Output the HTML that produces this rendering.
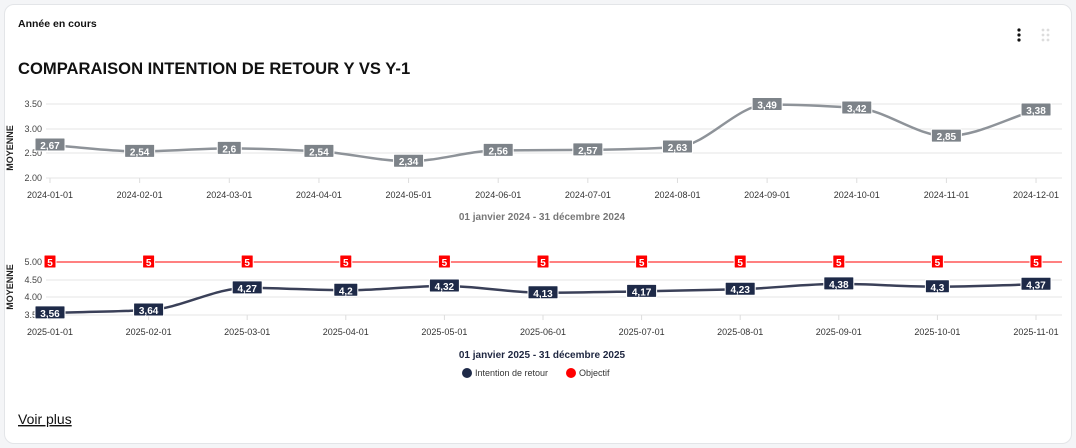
<!DOCTYPE html>
<html><head><meta charset="utf-8"><style>
body{margin:0;background:#f4f5f7;width:1076px;height:448px;overflow:hidden;font-family:"Liberation Sans",sans-serif}
.card{position:absolute;left:4px;top:4px;width:1066px;height:438px;background:#fff;border:1px solid #e3e5e8;border-radius:10px}
svg{position:absolute;left:0;top:0}
</style></head><body>
<div class="card"></div>
<svg id="s" width="1076" height="448" font-family="Liberation Sans, sans-serif">
<text x="18" y="27" font-size="10.5" font-weight="bold" fill="#111">Année en cours</text>
<text x="18" y="74" font-size="16.6" font-weight="bold" fill="#111">COMPARAISON INTENTION DE RETOUR Y VS Y-1</text>
<circle cx="1019" cy="30" r="1.6" fill="#111"/><circle cx="1019" cy="35" r="1.6" fill="#111"/><circle cx="1019" cy="40" r="1.6" fill="#111"/>
<g fill="#ddd"><circle cx="1043" cy="30" r="1.4"/><circle cx="1048" cy="30" r="1.4"/><circle cx="1043" cy="35" r="1.4"/><circle cx="1048" cy="35" r="1.4"/><circle cx="1043" cy="40" r="1.4"/><circle cx="1048" cy="40" r="1.4"/></g>
<text x="18" y="424" font-size="14" fill="#111" text-decoration="underline">Voir plus</text>
<text x="542" y="220" font-size="10" font-weight="bold" fill="#777" text-anchor="middle">01 janvier 2024 - 31 décembre 2024</text>
<text x="542" y="358" font-size="10" font-weight="bold" fill="#1e2640" text-anchor="middle">01 janvier 2025 - 31 décembre 2025</text>
<circle cx="467" cy="373" r="5" fill="#1e2a48"/><text x="475" y="376" font-size="9" fill="#333">Intention de retour</text>
<circle cx="571" cy="373" r="5" fill="#f00"/><text x="579" y="376" font-size="9" fill="#333">Objectif</text>
<text transform="translate(13,148) rotate(-90)" font-size="9" font-weight="bold" fill="#222" text-anchor="middle">MOYENNE</text>
<text transform="translate(13,287) rotate(-90)" font-size="9" font-weight="bold" fill="#222" text-anchor="middle">MOYENNE</text>
</svg>
<script>
var s=document.getElementById('s'),NS='http://www.w3.org/2000/svg';
function el(t,a,txt){var e=document.createElementNS(NS,t);for(var k in a)e.setAttribute(k,a[k]);if(txt!=null)e.textContent=txt;s.appendChild(e);return e}
function path(pts){var n=pts.length,m=[];var d=[];for(var i=0;i<n-1;i++)d.push((pts[i+1][1]-pts[i][1])/(pts[i+1][0]-pts[i][0]));
for(var i=0;i<n;i++){if(i==0)m.push(d[0]);else if(i==n-1)m.push(d[n-2]);else m.push(d[i-1]*d[i]<=0?0:2/(1/d[i-1]+1/d[i]));}
var r='M'+pts[0][0]+','+pts[0][1];for(var i=0;i<n-1;i++){var h=(pts[i+1][0]-pts[i][0])/3;r+=' C'+(pts[i][0]+h)+','+(pts[i][1]+m[i]*h)+' '+(pts[i+1][0]-h)+','+(pts[i+1][1]-m[i+1]*h)+' '+pts[i+1][0]+','+pts[i+1][1]}return r}
function lab(x,y,t,bg){var w=t.length*6+6;el('rect',{x:x-w/2,y:y-7,width:w,height:13,fill:bg,stroke:'#fff','stroke-width':1,rx:1});el('text',{x:x,y:y+4,'font-size':10,'font-weight':'bold',fill:'#fff','text-anchor':'middle'},t)}
var t1=[[3.5,104],[3,129],[2.5,153],[2,178]];
t1.forEach(function(a){el('line',{x1:46,x2:1062,y1:a[1],y2:a[1],stroke:'#e6e6e6'});el('text',{x:42,y:a[1]+3,'font-size':9,fill:'#444','text-anchor':'end'},a[0].toFixed(2))});
var v1=[2.67,2.54,2.6,2.54,2.34,2.56,2.57,2.63,3.49,3.42,2.85,3.38],p1=[];
v1.forEach(function(v,i){var x=50+i*89.64;p1.push([x,178-(v-2)*49.3]);el('line',{x1:x,x2:x,y1:178,y2:183,stroke:'#ddd'});el('text',{x:x,y:198,'font-size':9,fill:'#333','text-anchor':'middle'},'2024-'+(i<9?'0':'')+(i+1)+'-01')});
el('path',{d:path(p1),fill:'none',stroke:'#8e9399','stroke-width':2.5});
v1.forEach(function(v,i){lab(p1[i][0],p1[i][1],String(v).replace('.',','),'#7d8389')});
var t2=[[5,262],[4.5,280],[4,297],[3.5,315]];
t2.forEach(function(a){el('line',{x1:46,x2:1062,y1:a[1],y2:a[1],stroke:'#e6e6e6'});el('text',{x:42,y:a[1]+3,'font-size':9,fill:'#444','text-anchor':'end'},a[0].toFixed(2))});
el('line',{x1:46,x2:1062,y1:262,y2:262,stroke:'#f00','stroke-width':1});
var v2=[3.56,3.64,4.27,4.2,4.32,4.13,4.17,4.23,4.38,4.3,4.37],p2=[];
v2.forEach(function(v,i){var x=50+i*98.6;p2.push([x,315-(v-3.5)*35.3]);el('line',{x1:x,x2:x,y1:315,y2:320,stroke:'#ddd'});el('text',{x:x,y:335,'font-size':9,fill:'#333','text-anchor':'middle'},'2025-'+(i<9?'0':'')+(i+1)+'-01')});
el('path',{d:path(p2),fill:'none',stroke:'#3a4058','stroke-width':2.5});
p2.forEach(function(p){lab(p[0],262,'5','#f00')});
v2.forEach(function(v,i){lab(p2[i][0],p2[i][1],String(v).replace('.',','),'#1e2a48')});
</script>
</body></html>
